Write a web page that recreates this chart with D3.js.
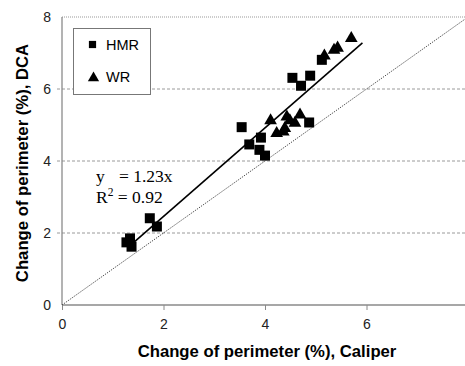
<!DOCTYPE html>
<html>
<head>
<meta charset="utf-8">
<script src="https://cdn.jsdelivr.net/npm/d3@7"></script>
<style>
  html, body { margin: 0; padding: 0; background: #fff; }
  svg { display: block; }
</style>
</head>
<body>
<svg id="chart" width="465" height="366"></svg>
<script>
// Perimeter change measured by caliper (x) vs DCA (y), in percent
const hmrX = [1.27, 1.34, 1.37, 1.73, 1.87, 3.54, 3.69, 3.92, 3.89, 4.00, 4.54, 4.71, 4.89, 4.87, 5.12];
const hmrY = [1.74, 1.85, 1.62, 2.41, 2.18, 4.94, 4.46, 4.65, 4.31, 4.15, 6.31, 6.09, 6.37, 5.07, 6.81];
const wrX = [4.11, 4.23, 4.36, 4.43, 4.49, 4.59, 4.69, 4.39, 5.17, 5.36, 5.43, 5.70];
const wrY = [5.12, 4.77, 4.81, 5.23, 5.12, 5.05, 5.28, 4.91, 6.92, 7.08, 7.14, 7.41];
const xTicks = [0, 2, 4, 6];
const yTicks = [0, 2, 4, 6, 8];
const slope = 1.23;
const r2 = 0.92;
const fitRange = [1.42, 5.92];

const svg = d3.select("#chart");
const x = d3.scaleLinear().domain([0, 8]).range([62, 468]);
const y = d3.scaleLinear().domain([0, 8]).range([305, 17]);

const sans = "'Liberation Sans', Arial, sans-serif";
const serif = "'Liberation Serif', 'Times New Roman', serif";

// horizontal gridlines
svg.append("g").selectAll("line")
  .data(yTicks.filter(d => d > 0 && d < 8))
  .join("line")
  .attr("x1", x(0) - 5).attr("x2", 465)
  .attr("y1", d => y(d)).attr("y2", d => y(d))
  .attr("stroke", "#9a9a9a").attr("stroke-width", 1)
  .attr("stroke-dasharray", "3,2");

// top frame edge
svg.append("line")
  .attr("x1", x(0)).attr("x2", 465)
  .attr("y1", y(8)).attr("y2", y(8))
  .attr("stroke", "#999").attr("stroke-width", 1)
  .attr("stroke-dasharray", "1,1");

// axes
const xAxis = d3.axisBottom(x).tickValues(xTicks).tickSize(5).tickPadding(9);
const gx = svg.append("g").attr("transform", `translate(0,${y(0)})`).call(xAxis);
const yAxis = d3.axisLeft(y).tickValues(yTicks).tickSize(0).tickPadding(11);
const gy = svg.append("g").attr("transform", `translate(${x(0)},0)`).call(yAxis);
[gx, gy].forEach(g => {
  g.select(".domain").attr("stroke", "#8a8a8a").attr("stroke-width", 1.3);
  g.selectAll(".tick line").attr("stroke", "#8a8a8a");
  g.selectAll("text").attr("font-family", sans).attr("font-size", 14).attr("fill", "#222");
});
gx.select(".domain").attr("d", `M${x(0)},0H465`);
gy.select(".domain").attr("d", `M0,${y(8)}V${y(0)}`);

// identity line
svg.append("line")
  .attr("x1", x(0)).attr("y1", y(0))
  .attr("x2", x(8)).attr("y2", y(8))
  .attr("stroke", "#444").attr("stroke-width", 1)
  .attr("stroke-dasharray", "1.2,1.2");

// regression line through the origin
svg.append("line")
  .attr("x1", x(fitRange[0])).attr("y1", y(slope * fitRange[0]))
  .attr("x2", x(fitRange[1])).attr("y2", y(slope * fitRange[1]))
  .attr("stroke", "#000").attr("stroke-width", 1.6);

// points
const sq = d3.symbol().type(d3.symbolSquare).size(100);
const tri = d3.symbol().type(d3.symbolTriangle).size(70);
svg.append("g").selectAll("path")
  .data(hmrX.map((v, i) => [v, hmrY[i]]))
  .join("path")
  .attr("d", sq)
  .attr("transform", d => `translate(${x(d[0])},${y(d[1])})`)
  .attr("fill", "#000");
svg.append("g").selectAll("path")
  .data(wrX.map((v, i) => [v, wrY[i]]))
  .join("path")
  .attr("d", tri)
  .attr("transform", d => `translate(${x(d[0])},${y(d[1])})`)
  .attr("fill", "#000");

// legend
const lg = svg.append("g");
lg.append("rect").attr("x", 73.5).attr("y", 28.5).attr("width", 77).attr("height", 66)
  .attr("fill", "#fff").attr("stroke", "#777").attr("stroke-width", 1);
lg.append("path").attr("d", d3.symbol().type(d3.symbolSquare).size(52))
  .attr("transform", "translate(92.5,44.5)");
lg.append("path").attr("d", d3.symbol().type(d3.symbolTriangle).size(55))
  .attr("transform", "translate(93.5,78)");
lg.append("text").attr("x", 106).attr("y", 49.5).text("HMR")
  .attr("font-family", sans).attr("font-size", 14.5);
lg.append("text").attr("x", 106).attr("y", 82).text("WR")
  .attr("font-family", sans).attr("font-size", 14.5);

// equation annotation
const eq = svg.append("g").attr("font-family", serif).attr("font-size", 17.5).attr("fill", "#000");
eq.append("text").attr("x", 96).attr("y", 182).text("y");
eq.append("text").attr("x", 119).attr("y", 182).text(`= ${slope}x`);
const rt = eq.append("text").attr("x", 96).attr("y", 203);
rt.append("tspan").text("R");
rt.append("tspan").attr("dy", -7).attr("font-size", 11.5).text("2");
rt.append("tspan").attr("dy", 7).text(` = ${r2}`);

// axis titles
svg.append("text")
  .attr("x", 267).attr("y", 357)
  .attr("text-anchor", "middle")
  .attr("font-family", sans).attr("font-weight", "bold").attr("font-size", 16.7)
  .text("Change of perimeter (%), Caliper");
svg.append("text")
  .attr("transform", "translate(28,163) rotate(-90)")
  .attr("text-anchor", "middle")
  .attr("font-family", sans).attr("font-weight", "bold").attr("font-size", 16.7)
  .text("Change of perimeter (%), DCA");
</script>
</body>
</html>
